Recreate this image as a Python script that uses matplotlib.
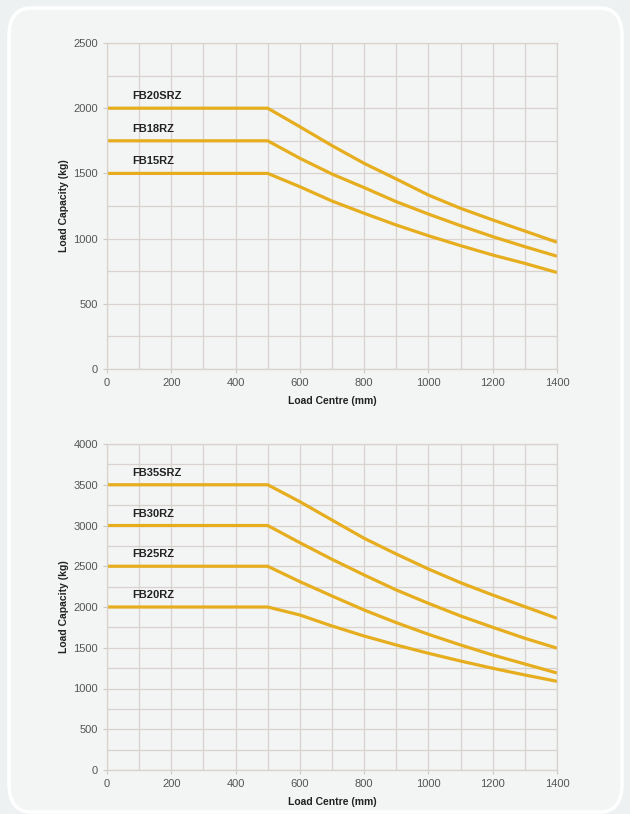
import matplotlib.pyplot as plt
from matplotlib.patches import FancyBboxPatch

plt.rcParams['font.family'] = ['Liberation Sans', 'DejaVu Sans']

# load centre (mm)
centre = [0, 500, 600, 700, 800, 900, 1000, 1100, 1200, 1300, 1400]

# top chart
top_names = ["FB20SRZ", "FB18RZ", "FB15RZ"]
fb20srz = [2000, 2000, 1858, 1713, 1577, 1457, 1334, 1232, 1143, 1058, 972]
fb18rz = [1750, 1750, 1616, 1495, 1391, 1283, 1188, 1099, 1015, 938, 865]
fb15rz = [1500, 1500, 1398, 1288, 1194, 1104, 1022, 946, 874, 810, 740]

# bottom chart
bot_names = ["FB35SRZ", "FB30RZ", "FB25RZ", "FB20RZ"]
fb35srz = [3500, 3500, 3292, 3067, 2843, 2650, 2466, 2298, 2147, 2004, 1861]
fb30rz = [3000, 3000, 2789, 2585, 2393, 2209, 2045, 1890, 1751, 1616, 1495]
fb25rz = [2500, 2500, 2311, 2135, 1963, 1808, 1665, 1534, 1411, 1301, 1190]
fb20rz = [2000, 2000, 1902, 1767, 1644, 1534, 1432, 1337, 1248, 1166, 1088]

line_col = '#E6AE1E'
grid_col = '#D8D3CF'
bg = '#F3F4F4'

fig = plt.figure(figsize=(6.3, 8.14), dpi=100, facecolor='#EDF1F2')
box = FancyBboxPatch((9 / 630, 2 / 814), 613 / 630, 804 / 814,
                     boxstyle="round,pad=0,rounding_size=0.035",
                     transform=fig.transFigure, facecolor=bg,
                     edgecolor='white', linewidth=2.5, zorder=-5)
fig.patches.append(box)


def setup(ax, ymax):
    ax.set_facecolor(bg)
    ax.set_xlim(0, 1400)
    ax.set_ylim(0, ymax)
    ax.set_xticks(range(0, 1401, 200))
    ax.set_xticks(range(0, 1401, 100), minor=True)
    ax.set_yticks(range(0, ymax + 1, 500))
    ax.set_yticks(range(0, ymax + 1, 250), minor=True)
    ax.grid(True, which='both', color=grid_col, linewidth=0.9)
    ax.set_axisbelow(True)
    for s in ax.spines.values():
        s.set_color(grid_col)
        s.set_linewidth(0.9)
    ax.tick_params(which='both', colors='#CFC8C3', labelcolor='#555555',
                   labelsize=8, length=3, width=0.8)
    ax.tick_params(which='minor', length=0)
    ax.set_xlabel('Load Centre (mm)', fontsize=7.5, fontweight='bold',
                  color='#222222', labelpad=6)
    ax.set_ylabel('Load Capacity (kg)', fontsize=7.5, fontweight='bold',
                  color='#222222', labelpad=3)


def draw(ax, names, series):
    for name, vals in zip(names, series):
        ax.plot(centre, vals, color=line_col, linewidth=2.3,
                solid_capstyle='butt', solid_joinstyle='round', clip_on=False)
        ax.annotate(name, (78, vals[0]), xytext=(0, 5),
                    textcoords='offset points', fontsize=8,
                    fontweight='bold', color='#222222', va='bottom')


ax1 = fig.add_axes([107 / 630, 1 - 369 / 814, 450 / 630, 326 / 814])
setup(ax1, 2500)
draw(ax1, top_names, [fb20srz, fb18rz, fb15rz])

ax2 = fig.add_axes([107 / 630, 1 - 770 / 814, 450 / 630, 326 / 814])
setup(ax2, 4000)
draw(ax2, bot_names, [fb35srz, fb30rz, fb25rz, fb20rz])

plt.savefig('out.png', dpi=100, facecolor=fig.get_facecolor())
